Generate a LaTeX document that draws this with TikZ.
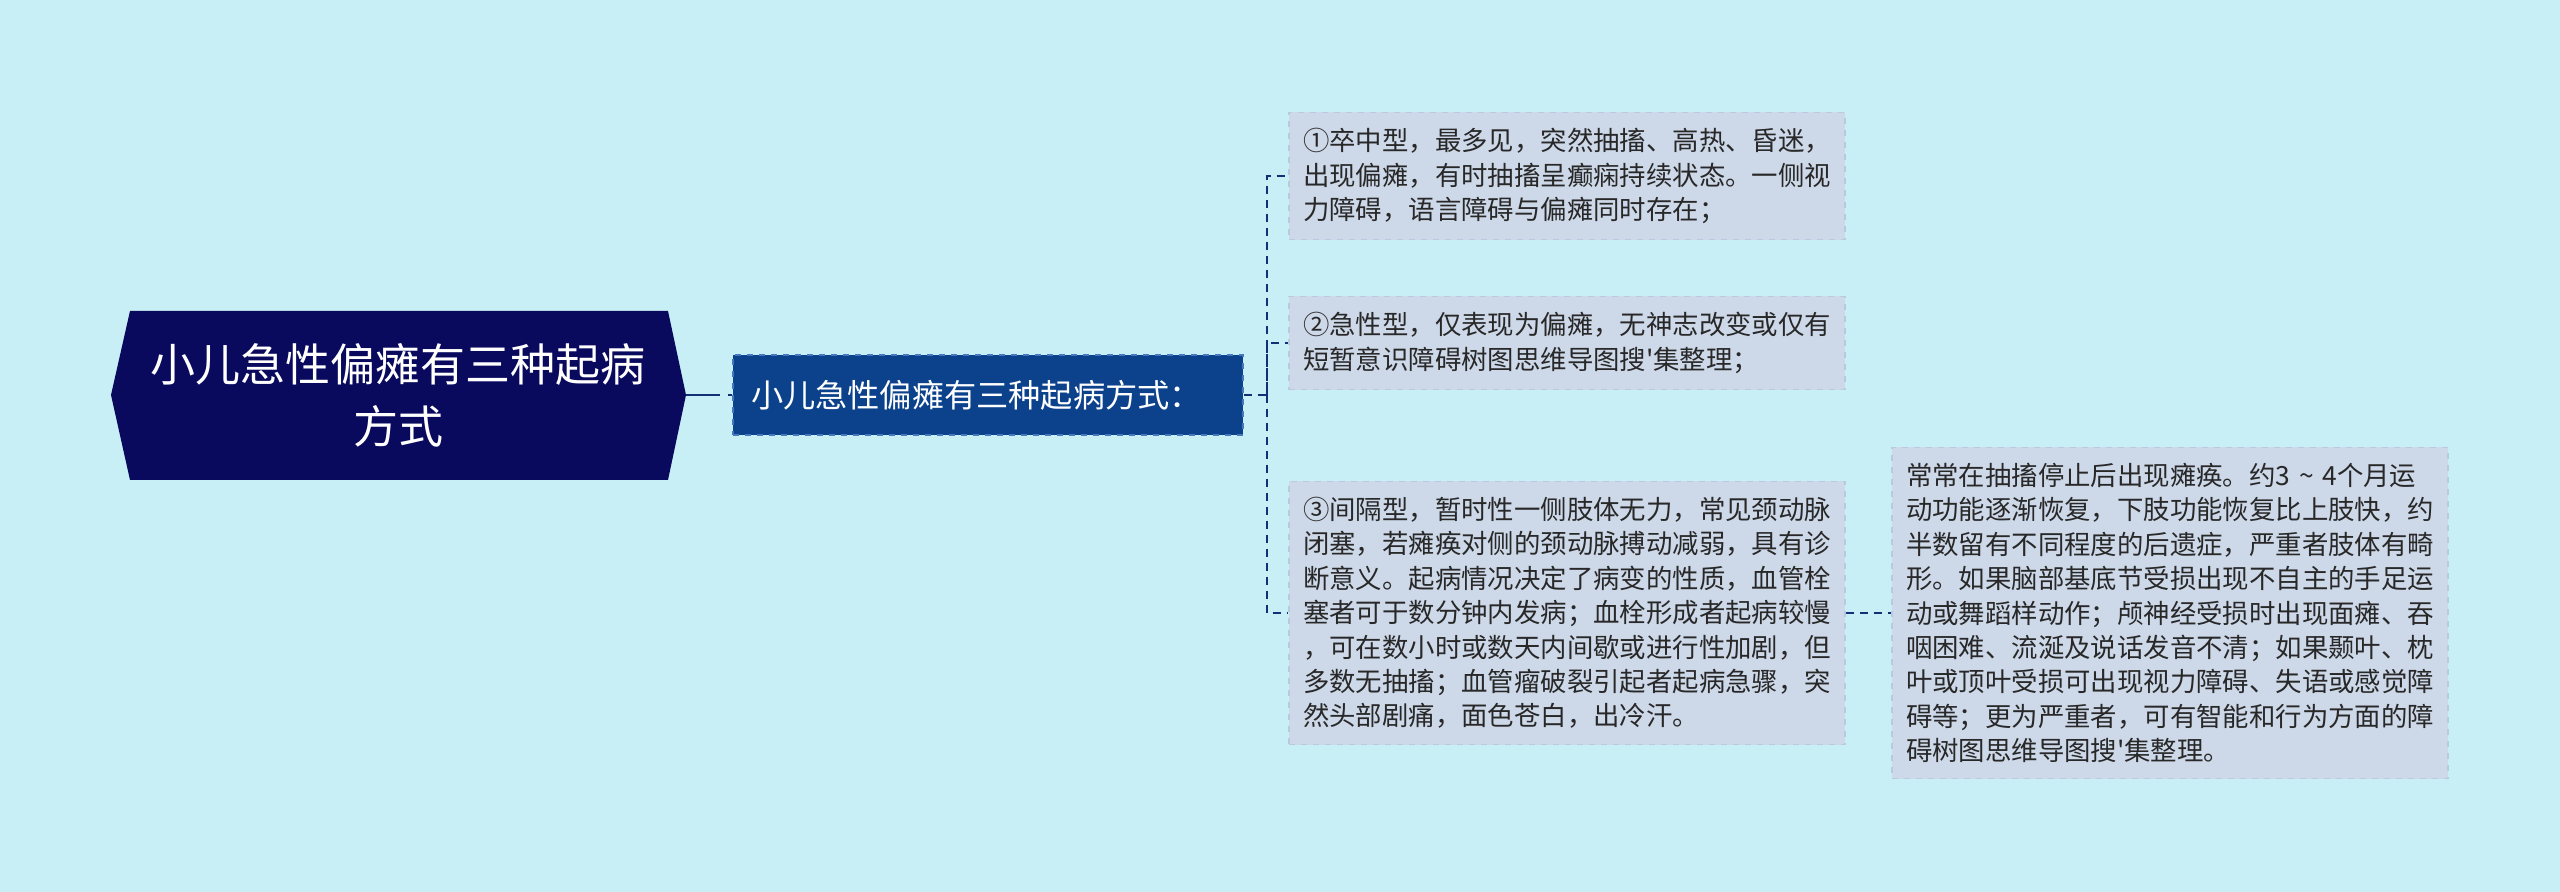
\documentclass[tikz,border=0pt]{standalone}
\usepackage{fontspec}
\setmainfont{Noto Sans CJK SC}[Ligatures=TeXOff]
\usetikzlibrary{positioning}
\usepackage{xcolor}

\definecolor{bgcyan}{RGB}{201,239,246}
\definecolor{rootnavy}{RGB}{9,9,94}
\definecolor{midblue}{RGB}{12,66,140}
\definecolor{midedge}{RGB}{70,120,190}
\definecolor{leaffill}{RGB}{205,216,232}
\definecolor{leafedge}{RGB}{186,201,223}
\definecolor{linkblue}{RGB}{18,48,118}
\definecolor{leaftext}{RGB}{40,40,40}

\tikzset{
  rootbox/.style={text=white, align=center, font=\fontsize{22.5}{31}\selectfont},
  midbox/.style={fill=midblue, draw=midedge, dashed, line width=0.6pt, text=white,
    text width=237pt, align=left, minimum height=40pt, inner xsep=9pt,
    font=\fontsize{16.1}{20}\selectfont},
  leafbox/.style={fill=leaffill, draw=leafedge, dashed, line width=0.6pt, text=leaftext,
    text width=264pt, align=left, inner xsep=7pt, inner ysep=8pt,
    font=\fontsize{13.2}{17.2}\selectfont},
  link/.style={draw=linkblue, line width=1pt, dash pattern=on 4pt off 3pt}
}

\begin{document}
\begin{tikzpicture}[x=0.5pt,y=-0.5pt]
% Background
\fill[bgcyan] (0,0) rectangle (2560,892);
\useasboundingbox (0,0) rectangle (2560,892);

% Draw the root hexagon
\fill[rootnavy] (111,395) -- (130,311) -- (668,311) -- (686,395)
    -- (668,480) -- (130,480) -- cycle;
\coordinate (roottip) at (686,395);
\node[rootbox] (root) at (398,395) {小儿急性偏瘫有三种起病\\方式};

% Middle node
\node[midbox] (mid) at (988,395) {小儿急性偏瘫有三种起病方式：};

% The three types
\node[leafbox] (type1) at (1567,176) {①卒中型，最多见，突然抽搐、高热、昏迷，\\出现偏瘫，有时抽搐呈癫痫持续状态。一侧视\\力障碍，语言障碍与偏瘫同时存在；};
\node[leafbox] (type2) at (1567,343) {②急性型，仅表现为偏瘫，无神志改变或仅有\\短暂意识障碍树图思维导图搜'集整理；};
\node[leafbox] (type3) at (1567,613) {③间隔型，暂时性一侧肢体无力，常见颈动脉\\闭塞，若瘫痪对侧的颈动脉搏动减弱，具有诊\\断意义。起病情况决定了病变的性质，血管栓\\塞者可于数分钟内发病；血栓形成者起病较慢\\，可在数小时或数天内间歇或进行性加剧，但\\多数无抽搐；血管瘤破裂引起者起病急骤，突\\然头部剧痛，面色苍白，出冷汗。};

% Sequelae
\node[leafbox] (sequel) at (2170,613) {常常在抽搐停止后出现瘫痪。约3 \textasciitilde{} 4个月运\\动功能逐渐恢复，下肢功能恢复比上肢快，约\\半数留有不同程度的后遗症，严重者肢体有畸\\形。如果脑部基底节受损出现不自主的手足运\\动或舞蹈样动作；颅神经受损时出现面瘫、吞\\咽困难、流涎及说话发音不清；如果颞叶、枕\\叶或顶叶受损可出现视力障碍、失语或感觉障\\碍等；更为严重者，可有智能和行为方面的障\\碍树图思维导图搜'集整理。};

% Connectors
\draw[link, dash pattern=on 17pt off 4pt] (roottip) -- (mid.west);
\draw[link] (mid.east) -- ++(23,0) coordinate (trunk) |- (type1.west);
\draw[link] (trunk) |- (type2.west);
\draw[link] (trunk) |- (type3.west);
\draw[link] (type3.east) -- (sequel.west);
\end{tikzpicture}
\end{document}
